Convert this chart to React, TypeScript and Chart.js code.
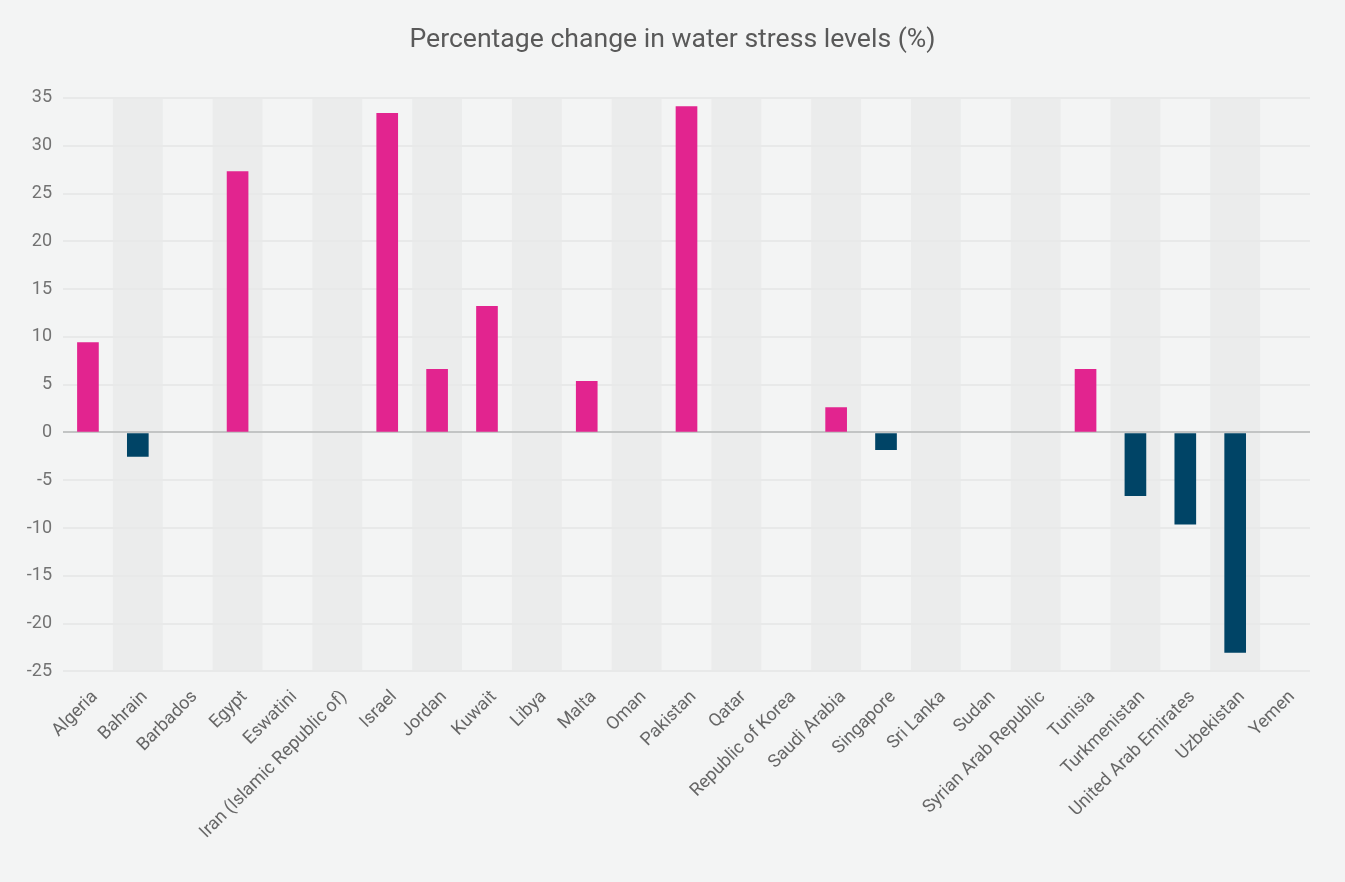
import React, { useEffect, useRef } from "react";
import { Chart, registerables } from "chart.js";

Chart.register(...registerables);

const countries: string[] = [
  "Algeria", "Bahrain", "Barbados", "Egypt", "Eswatini", "Iran (Islamic Republic of)",
  "Israel", "Jordan", "Kuwait", "Libya", "Malta", "Oman", "Pakistan", "Qatar",
  "Republic of Korea", "Saudi Arabia", "Singapore", "Sri Lanka", "Sudan",
  "Syrian Arab Republic", "Tunisia", "Turkmenistan", "United Arab Emirates",
  "Uzbekistan", "Yemen",
];

const changeValues: number[] = [
  9.4, -2.5, 0, 27.3, 0, 0,
  33.4, 6.6, 13.2, 0, 5.35, 0, 34.1, 0,
  0, 2.6, -1.8, 0, 0,
  0, 6.6, -6.6, -9.6,
  -23.0, 0,
];

const yTicks: number[] = [-25, -20, -15, -10, -5, 0, 5, 10, 15, 20, 25, 30, 35];

const PINK = "#e2248f";
const NAVY = "#004466";

const bandPlugin = {
  id: "bands",
  beforeDraw(chart: any) {
    const { ctx, chartArea, scales, width, height } = chart;
    ctx.save();
    ctx.fillStyle = "#f3f4f4";
    ctx.fillRect(0, 0, width, height);
    const x = scales.x;
    const w = x.width / countries.length;
    ctx.fillStyle = "#ebecec";
    countries.forEach((_, i) => {
      if (i % 2 === 1) {
        const c = x.getPixelForValue(i);
        ctx.fillRect(c - w / 2, chartArea.top, w, chartArea.bottom - chartArea.top);
      }
    });
    ctx.restore();
  },
};

export default function App() {
  const ref = useRef<HTMLCanvasElement | null>(null);

  useEffect(() => {
    document.body.style.margin = "0";
    Chart.defaults.font.family = "Roboto";
    const chart = new Chart(ref.current as HTMLCanvasElement, {
      type: "bar",
      data: {
        labels: countries,
        datasets: [
          {
            data: changeValues,
            backgroundColor: changeValues.map((v) =>
              v < 0 ? NAVY : v > 0 ? PINK : "rgba(0,0,0,0)"
            ),
            barThickness: 21,
          },
        ],
      },
      options: {
        animation: false,
        responsive: true,
        maintainAspectRatio: false,
        layout: { padding: { left: 20, right: 20, top: 0, bottom: 32 } },
        plugins: {
          legend: { display: false },
          tooltip: { enabled: false },
          title: {
            display: true,
            text: "Percentage change in water stress levels (%)",
            color: "#595959",
            font: { size: 26.6, weight: "normal" as any, family: "Roboto" },
            padding: { top: 24, bottom: 42 },
          },
        },
        scales: {
          x: {
            grid: { display: false },
            border: { display: false },
            ticks: {
              color: "#666666",
              font: { size: 18, family: "Roboto" },
              minRotation: 45,
              maxRotation: 45,
              autoSkip: false,
              padding: 7,
              labelOffset: 7,
            },
          },
          y: {
            min: -25,
            max: 35,
            afterBuildTicks: (axis: any) => {
              axis.ticks = yTicks.map((v) => ({ value: v }));
            },
            afterFit: (axis: any) => {
              axis.width = 43;
            },
            grid: {
              color: (ctx: any) => (ctx.tick && ctx.tick.value === 0 ? "#c2c4c4" : "#e8e9e9"),
              lineWidth: 2,
              drawTicks: false,
            },
            border: { display: false },
            ticks: {
              color: "#737373",
              font: { size: 18, family: "Roboto" },
              padding: 11,
            },
          },
          yRight: {
            position: "right",
            display: true,
            min: -25,
            max: 35,
            grid: { display: false, drawTicks: false },
            border: { display: false },
            ticks: { display: false },
            afterFit: (axis: any) => {
              axis.width = 15;
            },
          },
        },
      },
      plugins: [bandPlugin],
    });
    return () => chart.destroy();
  }, []);

  return (
    <div style={{ width: 1345, height: 882, position: "relative" }}>
      <canvas ref={ref} />
    </div>
  );
}
